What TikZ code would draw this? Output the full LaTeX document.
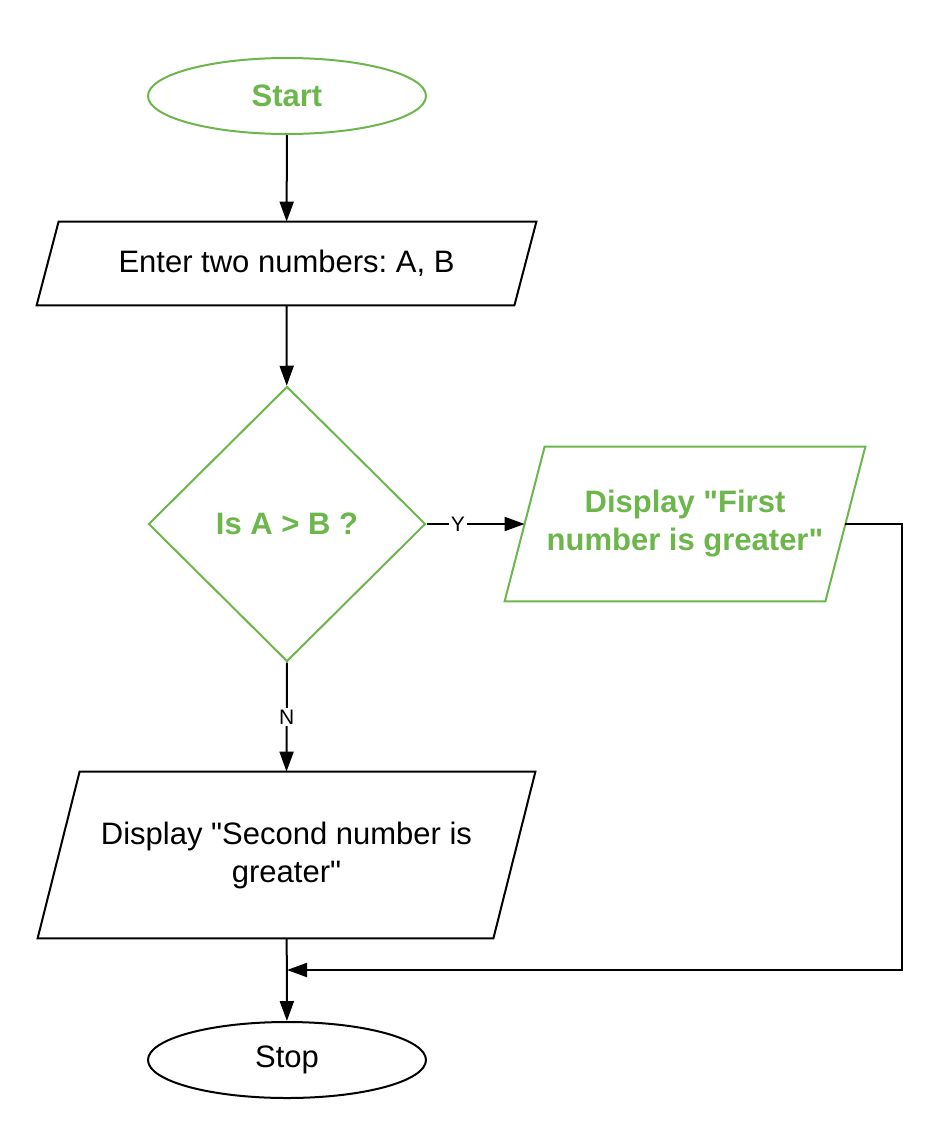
\documentclass[tikz,border=0pt]{standalone}
\usepackage{fontspec}
\setmainfont{Liberation Sans}
\usepackage{tikz}
\usetikzlibrary{
	arrows.meta,
	positioning,
	shapes.geometric
}
\usepackage{xcolor}
\definecolor{flowgreen}{RGB}{108,182,76}

\begin{document}
\frenchspacing
\begin{tikzpicture}[x=0.5pt,y=-0.5pt,
		font=\fontsize{15.5}{19}\selectfont,
		terminal/.style={ellipse,draw,line width=1pt,minimum width=139pt,minimum height=38pt,inner sep=0pt},
		iobox/.style n args={2}{rectangle,align=center,inner sep=0pt,
			append after command={\pgfextra{\draw[line width=1pt,#2]
				([xshift=#1]\tikzlastnode.north west) -- ([xshift=#1]\tikzlastnode.north east) --
				([xshift=-#1]\tikzlastnode.south east) -- ([xshift=-#1]\tikzlastnode.south west) -- cycle;}}},
		decision/.style={diamond,draw,line width=1pt,minimum width=138.5pt,minimum height=137.5pt,inner sep=0pt},
		greentext/.style={text=flowgreen,font=\fontsize{15.5}{19}\selectfont\bfseries},
		flow/.style={-{Triangle[length=10pt,width=7pt]},line width=1pt},
		tag/.style={fill=white,inner sep=1pt,font=\fontsize{10.5}{12}\selectfont}
	]
		
		\useasboundingbox (0,0) rectangle (940,1140);
		
		\node[terminal,greentext,draw=flowgreen] (start) at (287,96) {Start};
		
		\node[iobox={5.5pt}{black},minimum width=238.5pt,minimum height=41.5pt] (input) at (286.5,263.5) {Enter two numbers: A, B};
		
		\node[decision,greentext,draw=flowgreen] (test) at (287,524) {Is A > B ?};
		
		\node[iobox={10pt}{flowgreen},greentext,minimum width=160pt,minimum height=77pt] (first) at (685,524) {Display \textquotedbl First\\number is greater\textquotedbl};
		
		\node[iobox={10.5pt}{black},minimum width=227.5pt,minimum height=83pt] (second) at (286.5,855) {Display \textquotedbl Second number is\\greater\textquotedbl};
		
		\node[terminal] (stop) at (287,1060) {Stop};
		
		\coordinate (bend) at (902,524);
		\coordinate (join) at (287,970);
		
		\draw[flow] (start) -- (input);
		
		\draw[flow] (input) -- (test);
		
		\draw[flow] (test.east) -- node[tag,pos=0.32] {Y} (first.west);
		
		\draw[flow] (test.south) -- node[tag,pos=0.5] {N} (second.north);
		
		\draw[flow] (second) -- (stop);
		
		\draw[flow] (first.east) -- (bend) |- (join);
		
	\end{tikzpicture}
\end{document}
